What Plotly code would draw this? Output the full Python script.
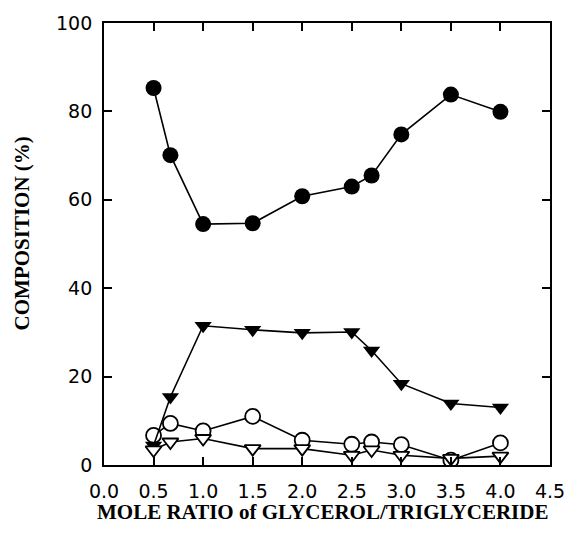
import plotly.graph_objects as go

# Mole ratio of glycerol/triglyceride
x_ratio = [0.5, 0.67, 1.0, 1.5, 2.0, 2.5, 2.7, 3.0, 3.5, 4.0]

# Composition (%) series
filled_circle = [85.3, 70.1, 54.5, 54.7, 60.8, 63.0, 65.5, 74.8, 83.8, 79.9]
filled_triangle = [4.4, 15.4, 31.5, 30.6, 29.9, 30.1, 25.9, 18.4, 13.9, 13.0]
open_circle = [6.7, 9.4, 7.7, 11.0, 5.6, 4.7, 5.2, 4.6, 1.1, 5.0]
open_triangle = [3.4, 5.2, 6.0, 3.7, 3.7, 2.2, 3.4, 2.2, 1.5, 2.0]

x_ticks = [0.0, 0.5, 1.0, 1.5, 2.0, 2.5, 3.0, 3.5, 4.0, 4.5]
x_tick_text = ["0.0", "0.5", "1.0", "1.5", "2.0", "2.5", "3.0", "3.5", "4.0", "4.5"]
y_ticks = [0, 20, 40, 60, 80, 100]

fig = go.Figure()

line_style = dict(color="black", width=1.6)

fig.add_trace(go.Scatter(
    x=x_ratio, y=filled_circle, mode="lines+markers",
    line=line_style,
    marker=dict(symbol="circle", size=16, color="black"),
    showlegend=False))

fig.add_trace(go.Scatter(
    x=x_ratio, y=open_circle, mode="lines+markers",
    line=line_style,
    marker=dict(symbol="circle", size=15, color="white",
                line=dict(color="black", width=1.8)),
    showlegend=False))

fig.add_trace(go.Scatter(
    x=x_ratio, y=filled_triangle, mode="lines+markers",
    line=line_style,
    marker=dict(symbol="triangle-down", size=15, color="black"),
    showlegend=False))

fig.add_trace(go.Scatter(
    x=x_ratio, y=open_triangle, mode="lines+markers",
    line=line_style,
    marker=dict(symbol="triangle-down", size=14, color="white",
                line=dict(color="black", width=1.8)),
    showlegend=False))

tick_font = dict(family="DejaVu Sans", size=19, color="black")
title_font = dict(family="Liberation Serif", size=21, color="black")

fig.update_xaxes(
    range=[0, 4.5], tickvals=x_ticks, ticktext=x_tick_text,
    showgrid=False, zeroline=False,
    showline=True, linecolor="black", linewidth=1.8, mirror="ticks",
    ticks="inside", ticklen=8, tickwidth=1.6, tickcolor="black",
    tickfont=tick_font, ticklabelstandoff=8)

fig.update_yaxes(
    range=[0, 100], tickvals=y_ticks,
    showgrid=False, zeroline=False,
    showline=True, linecolor="black", linewidth=1.8, mirror="ticks",
    ticks="inside", ticklen=8, tickwidth=1.6, tickcolor="black",
    tickfont=tick_font, ticklabelstandoff=6)

fig.add_annotation(
    text="<b>MOLE RATIO of GLYCEROL/TRIGLYCERIDE</b>",
    xref="paper", yref="paper", x=0.49, y=-0.107,
    xanchor="center", yanchor="middle", showarrow=False, font=title_font)

fig.add_annotation(
    text="<b>COMPOSITION (%)</b>",
    xref="paper", yref="paper", x=-0.185, y=0.525,
    xanchor="center", yanchor="middle", textangle=-90,
    showarrow=False, font=title_font)

fig.update_layout(
    width=577, height=533,
    margin=dict(l=104, r=21, t=19, b=68),
    plot_bgcolor="white", paper_bgcolor="white",
)

fig.write_html("out.html")
